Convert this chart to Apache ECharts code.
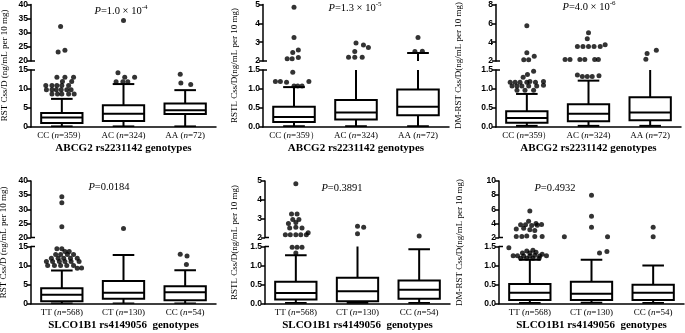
<!DOCTYPE html>
<html>
<head>
<meta charset="utf-8">
<script src="https://cdn.jsdelivr.net/npm/echarts@6/dist/echarts.min.js"></script>
<style>
  html, body { margin: 0; padding: 0; background: #fff; }
  #main { width: 685px; height: 333px; }
</style>
</head>
<body>
<div id="main"></div>
<script>
// categories
const abcgCats = ['CC (n=359）', 'AC (n=324)', 'AA (n=72)']
const slcoCats = ['TT (n=568)', 'CT (n=130)', 'CC (n=54)']
const abcgName = 'ABCG2 rs2231142 genotypes'
const slcoName = 'SLCO1B1 rs4149056  genotypes'

// box values: [lower whisker, Q1, median, Q3, upper whisker]
const rstAbcgBox = [[0.15, 1.06, 2.47, 3.7, 7.4], [0.15, 1.6, 3.5, 5.7, 11.3], [0.15, 3.4, 4.4, 6.2, 9.7]]
const rstlAbcgBox = [[0.02, 0.13, 0.26, 0.53, 1.05], [0.02, 0.2, 0.38, 0.71, 1.6], [0.02, 0.31, 0.53, 0.99, 2.42]]
const dmAbcgBox = [[0.03, 0.11, 0.24, 0.415, 0.87], [0.03, 0.15, 0.35, 0.6, 1.22], [0.03, 0.18, 0.38, 0.78, 1.6]]
const rstSlcoBox = [[0.1, 0.7, 2.35, 4.1, 8.7], [0.1, 1.3, 2.9, 6.0, 12.8], [0.1, 0.9, 3.05, 4.6, 8.8]]
const rstlSlcoBox = [[0.02, 0.11, 0.28, 0.58, 1.27], [0.02, 0.07, 0.33, 0.68, 1.6], [0.02, 0.13, 0.37, 0.61, 1.43]]
const dmSlcoBox = [[0.02, 0.1, 0.29, 0.52, 1.15], [0.03, 0.1, 0.26, 0.58, 1.15], [0.02, 0.1, 0.29, 0.5, 1.0]]

// outliers: [group position (0,1,2 + jitter), value]
const rstAbcgOut = [
  [-0.08, 13.1], [0.05, 13.1], [0.19, 13.1], [0.01, 12.0], [0.16, 12.0],
  [-0.26, 10.9], [-0.16, 10.9], [-0.08, 10.9], [0.0, 10.9], [0.11, 10.9],
  [-0.25, 9.8], [-0.16, 9.8], [-0.09, 9.8], [-0.01, 9.8], [0.08, 9.8], [0.15, 9.8],
  [-0.16, 8.7], [-0.07, 8.7], [0.0, 8.7], [0.11, 8.7], [0.2, 8.7],
  [-0.02, 32.2], [-0.06, 23.2], [0.05, 23.8],
  [0.91, 14.3], [1.02, 13.1], [1.18, 13.1], [0.88, 11.9], [0.99, 11.9], [1.07, 11.9],
  [1.0, 34.3],
  [1.92, 13.9], [1.93, 11.6], [2.09, 11.2]
]
const rstlAbcgOut = [
  [-0.3, 1.2], [-0.22, 1.2], [-0.12, 1.18], [0.0, 1.08], [0.06, 1.08], [0.13, 1.08], [0.24, 1.2], [-0.02, 1.44],
  [0.0, 4.85], [0.0, 3.25], [-0.02, 2.45], [0.07, 2.58], [-0.11, 2.12], [-0.03, 2.12], [0.07, 2.18],
  [1.0, 2.95], [1.12, 2.85], [1.2, 2.72], [0.98, 2.5], [0.88, 2.2], [0.98, 2.2], [1.1, 2.2],
  [2.0, 3.25], [1.95, 2.5], [2.07, 2.52]
]
const dmAbcgOut = [
  [0.11, 1.47], [0.01, 1.38], [-0.06, 1.31],
  [-0.27, 1.18], [-0.19, 1.18], [-0.11, 1.18], [0.0, 1.18], [0.05, 1.2], [0.14, 1.18], [0.27, 1.2],
  [-0.24, 1.08], [-0.16, 1.08], [-0.08, 1.08], [0.03, 1.08], [0.16, 1.08], [0.27, 1.1],
  [-0.16, 0.97], [-0.03, 0.97], [0.11, 0.97],
  [0.0, 5.75], [0.0, 2.88], [0.12, 2.5], [-0.05, 2.12], [0.03, 2.12],
  [1.0, 5.0], [0.98, 4.35], [0.82, 3.55], [0.91, 3.55], [1.0, 3.55], [1.09, 3.55], [1.19, 3.55], [1.27, 3.72],
  [0.62, 2.15], [0.7, 2.15], [0.86, 2.15], [0.94, 2.15], [1.1, 2.15], [1.16, 2.15],
  [0.82, 1.37], [0.9, 1.33], [0.98, 1.33], [1.06, 1.33], [1.17, 1.35],
  [1.93, 2.18], [1.95, 2.8], [2.1, 3.15]
]
const rstSlcoOut = [
  [-0.08, 14.4], [0.0, 14.4], [0.05, 13.7], [0.12, 13.7],
  [-0.1, 12.9], [-0.02, 12.9], [0.09, 12.9], [0.19, 12.9],
  [-0.17, 11.9], [-0.06, 11.9], [0.03, 11.9], [0.14, 11.9], [0.25, 11.9],
  [-0.25, 11.1], [-0.15, 11.1], [-0.04, 11.1], [0.05, 11.1], [0.15, 11.1], [0.28, 11.1],
  [-0.23, 10.0], [-0.12, 10.0], [-0.02, 10.0], [0.08, 10.0], [0.19, 10.0],
  [0.25, 9.3], [0.32, 9.4],
  [0.0, 34.4], [0.0, 32.3], [0.0, 23.8],
  [1.0, 23.2],
  [1.92, 13.0], [2.03, 12.5], [2.02, 10.3]
]
const rstlSlcoOut = [
  [-0.06, 1.48], [0.02, 1.48], [0.1, 1.48], [0.0, 1.33],
  [0.0, 4.85], [-0.07, 3.25], [0.02, 3.25], [-0.05, 2.95], [0.05, 2.95], [-0.12, 2.75], [0.0, 2.8],
  [-0.1, 2.5], [0.0, 2.55], [0.1, 2.5], [0.2, 2.25],
  [-0.17, 2.15], [-0.09, 2.15], [0.0, 2.15], [0.08, 2.15], [0.17, 2.15],
  [1.0, 2.6], [1.1, 2.55], [1.0, 2.2],
  [2.0, 2.08]
]
const dmSlcoOut = [
  [-0.34, 1.47], [-0.05, 1.38], [0.05, 1.4], [-0.12, 1.33], [0.0, 1.33], [0.1, 1.35], [0.2, 1.3],
  [-0.27, 1.26], [-0.2, 1.26], [-0.1, 1.25], [0.0, 1.25], [0.08, 1.27], [0.16, 1.25], [0.27, 1.26],
  [-0.15, 1.19], [-0.05, 1.19], [0.05, 1.19], [0.15, 1.19],
  [0.0, 5.75], [-0.02, 4.3], [0.1, 4.0], [-0.15, 3.8], [-0.07, 3.8], [0.03, 3.7], [0.12, 3.75], [0.19, 3.85],
  [-0.22, 3.2], [-0.1, 3.3], [0.0, 3.1], [0.08, 3.0],
  [-0.22, 2.15], [-0.13, 2.15], [-0.05, 2.2], [0.08, 2.15], [0.2, 2.15],
  [1.0, 8.0], [1.0, 5.0], [1.0, 3.45], [0.56, 2.1], [1.26, 2.1], [1.13, 1.33], [1.25, 1.37],
  [2.0, 3.45], [2.0, 2.1]
]

// axis ranges [min, max, interval] for the upper and lower piece of each broken axis
const bigUpper = [20, 40, 5]
const bigLower = [0, 15, 5]
const yTitles = ['RST Css/D (ng/mL per 10 mg)', 'RSTL Css/D(ng/mL per 10 mg)', 'DM-RST Css/D(ng/mL per 10 mg)']
const pTexts = ['{i|P}{r|=1.0 × 10}{s|-4}', '{i|P}{r|=1.3 × 10}{s|-5}', '{i|P}{r|=4.0 × 10}{s|-6}',
  '{i|P}{r|=0.0184}', '{i|P}{r|=0.3891}', '{i|P}{r|=0.4932}']

const panels = [
  { box: rstAbcgBox, out: rstAbcgOut, cats: abcgCats, gene: abcgName, yt: yTitles[0], up: bigUpper, lo: bigLower },
  { box: rstlAbcgBox, out: rstlAbcgOut, cats: abcgCats, gene: abcgName, yt: yTitles[1], up: [2, 5, 1], lo: [0, 1.5, 0.5] },
  { box: dmAbcgBox, out: dmAbcgOut, cats: abcgCats, gene: abcgName, yt: yTitles[2], up: [2, 8, 2], lo: [0, 1.5, 0.5] },
  { box: rstSlcoBox, out: rstSlcoOut, cats: slcoCats, gene: slcoName, yt: yTitles[0], up: bigUpper, lo: bigLower },
  { box: rstlSlcoBox, out: rstlSlcoOut, cats: slcoCats, gene: slcoName, yt: yTitles[1], up: [2, 5, 1], lo: [0, 1.5, 0.5] },
  { box: dmSlcoBox, out: dmSlcoOut, cats: slcoCats, gene: slcoName, yt: yTitles[2], up: [2, 10, 2], lo: [0, 1.5, 0.5] }
]

// layout of each panel (px)
const layout = [
  { left: 31, width: 185, t1: 4, h1: 57, t2: 70, h2: 57, ytx: 5, pcx: 121, pcy: 11 },
  { left: 263, width: 186, t1: 4, h1: 57, t2: 70, h2: 57, ytx: 235, pcx: 355, pcy: 8 },
  { left: 496, width: 185, t1: 4, h1: 57, t2: 70, h2: 57, ytx: 459, pcx: 589, pcy: 7 },
  { left: 31, width: 185, t1: 181, h1: 56.5, t2: 246.5, h2: 57.3, ytx: 4, pcx: 109, pcy: 187 },
  { left: 265, width: 185, t1: 181, h1: 56.5, t2: 246.5, h2: 57.3, ytx: 235, pcx: 342, pcy: 188 },
  { left: 499, width: 185, t1: 181, h1: 56.5, t2: 246.5, h2: 57.3, ytx: 460, pcx: 555, pcy: 188 }
]

const SERIF = '"Liberation Serif", "Times New Roman", serif'
const SANS = '"Liberation Sans", Arial, sans-serif'
const LW = 2

function renderBox (params, api) {
  const idx = api.value(0)
  const band = api.size([1, 0])[0]
  const half = band * 0.335
  const cap = band * 0.175
  const x = api.coord([idx, api.value(3)])[0]
  const y = v => api.coord([idx, v])[1]
  const yMin = y(api.value(1))
  const yQ1 = y(api.value(2))
  const yMed = y(api.value(3))
  const yQ3 = y(api.value(4))
  const yMax = y(api.value(5))
  const st = { stroke: '#000', lineWidth: LW, fill: null }
  return {
    type: 'group',
    children: [
      { type: 'line', shape: { x1: x, y1: yQ3, x2: x, y2: yMax }, style: st },
      { type: 'line', shape: { x1: x - cap, y1: yMax, x2: x + cap, y2: yMax }, style: st },
      { type: 'line', shape: { x1: x, y1: yQ1, x2: x, y2: yMin }, style: st },
      { type: 'line', shape: { x1: x - cap, y1: yMin, x2: x + cap, y2: yMin }, style: st },
      { type: 'rect', shape: { x: x - half, y: yQ3, width: half * 2, height: yQ1 - yQ3 }, style: { stroke: '#000', lineWidth: LW, fill: '#fff' } },
      { type: 'line', shape: { x1: x - half, y1: yMed, x2: x + half, y2: yMed }, style: st }
    ]
  }
}

const grid = []
const xAxis = []
const yAxis = []
const series = []
const graphic = []

function yAxisOf (gi, r) {
  const dec = r[2] < 1 ? 1 : 0
  return {
    type: 'value', gridIndex: gi, min: r[0], max: r[1], interval: r[2],
    splitLine: { show: false },
    axisLine: { show: true, onZero: false, lineStyle: { color: '#000', width: 1.5 } },
    axisTick: { show: true, length: 4, lineStyle: { color: '#000', width: 1.5 } },
    axisLabel: {
      color: '#000', fontFamily: SANS, fontWeight: 'bold', fontSize: 8.5, margin: 3,
      showMinLabel: true, showMaxLabel: true,
      formatter: v => v.toFixed(dec)
    }
  }
}

panels.forEach((p, i) => {
  const L = layout[i]
  const gTop = grid.length
  grid.push({ left: L.left, top: L.t1, width: L.width, height: L.h1 })
  grid.push({ left: L.left, top: L.t2, width: L.width, height: L.h2 })
  const gBot = gTop + 1

  const xTop = xAxis.length
  xAxis.push({ type: 'value', gridIndex: gTop, min: -0.5, max: 2.5, show: false })
  const xBot = xAxis.length
  xAxis.push({ type: 'value', gridIndex: gBot, min: -0.5, max: 2.5, show: false, position: 'top' })
  xAxis.push({
    type: 'category', gridIndex: gBot, data: p.cats, position: 'bottom',
    axisLine: { onZero: false, lineStyle: { color: '#000', width: 1.5 } },
    axisTick: { show: false },
    axisLabel: {
      margin: 4, color: '#000', interval: 0,
      formatter: v => v.replace(/^(.*?)n=(.*)$/, '{r|$1}{i|n}{r|=$2}'),
      rich: {
        r: { fontFamily: SERIF, fontSize: 9, color: '#000' },
        i: { fontFamily: SERIF, fontSize: 9, color: '#000', fontStyle: 'italic' }
      }
    },
    name: p.gene, nameLocation: 'middle', nameGap: 16,
    nameTextStyle: { fontFamily: SERIF, fontSize: 11, fontWeight: 'bold', color: '#000' }
  })

  const yTop = yAxis.length
  yAxis.push(yAxisOf(gTop, p.up))
  const yBot = yAxis.length
  yAxis.push(yAxisOf(gBot, p.lo))

  const boxData = p.box.map((b, k) => [k].concat(b))
  ;[[xTop, yTop], [xBot, yBot]].forEach(([xi, yi]) => {
    series.push({
      type: 'custom', xAxisIndex: xi, yAxisIndex: yi, clip: true,
      renderItem: renderBox, encode: { x: 0, y: [1, 2, 3, 4, 5] },
      data: boxData, z: 2
    })
  })
  series.push({
    type: 'scatter', xAxisIndex: xTop, yAxisIndex: yTop, symbolSize: 5,
    itemStyle: { color: '#000' }, z: 3,
    data: p.out.filter(d => d[1] >= p.up[0])
  })
  series.push({
    type: 'scatter', xAxisIndex: xBot, yAxisIndex: yBot, symbolSize: 5,
    itemStyle: { color: '#000' }, z: 3,
    data: p.out.filter(d => d[1] <= p.lo[1])
  })

  // small stubs marking the axis break
  const stub = { stroke: '#000', lineWidth: 1.5 }
  graphic.push({ type: 'line', shape: { x1: L.left, y1: L.t1 + L.h1, x2: L.left + 4, y2: L.t1 + L.h1 }, style: stub })
  graphic.push({ type: 'line', shape: { x1: L.left, y1: L.t2, x2: L.left + 4, y2: L.t2 }, style: stub })

  graphic.push({
    type: 'text', x: L.ytx, y: (L.t1 + L.t2 + L.h2) / 2, rotation: Math.PI / 2,
    style: {
      text: p.yt, fontFamily: SERIF, fontSize: 9, fill: '#000',
      textAlign: 'center', textVerticalAlign: 'middle'
    }
  })
  graphic.push({
    type: 'text', x: L.pcx, y: L.pcy,
    style: {
      text: pTexts[i], textAlign: 'center', textVerticalAlign: 'middle',
      rich: {
        i: { fontFamily: SERIF, fontSize: 10.5, fontStyle: 'italic', fill: '#000', lineHeight: 14 },
        r: { fontFamily: SERIF, fontSize: 10.5, fill: '#000', lineHeight: 14 },
        s: { fontFamily: SERIF, fontSize: 7, fill: '#000', lineHeight: 14, verticalAlign: 'top' }
      }
    }
  })
})

const chart = echarts.init(document.getElementById('main'), null, { renderer: 'canvas' })
chart.setOption({
  backgroundColor: '#fff',
  animation: false,
  grid, xAxis, yAxis, series, graphic
})
</script>
</body>
</html>
